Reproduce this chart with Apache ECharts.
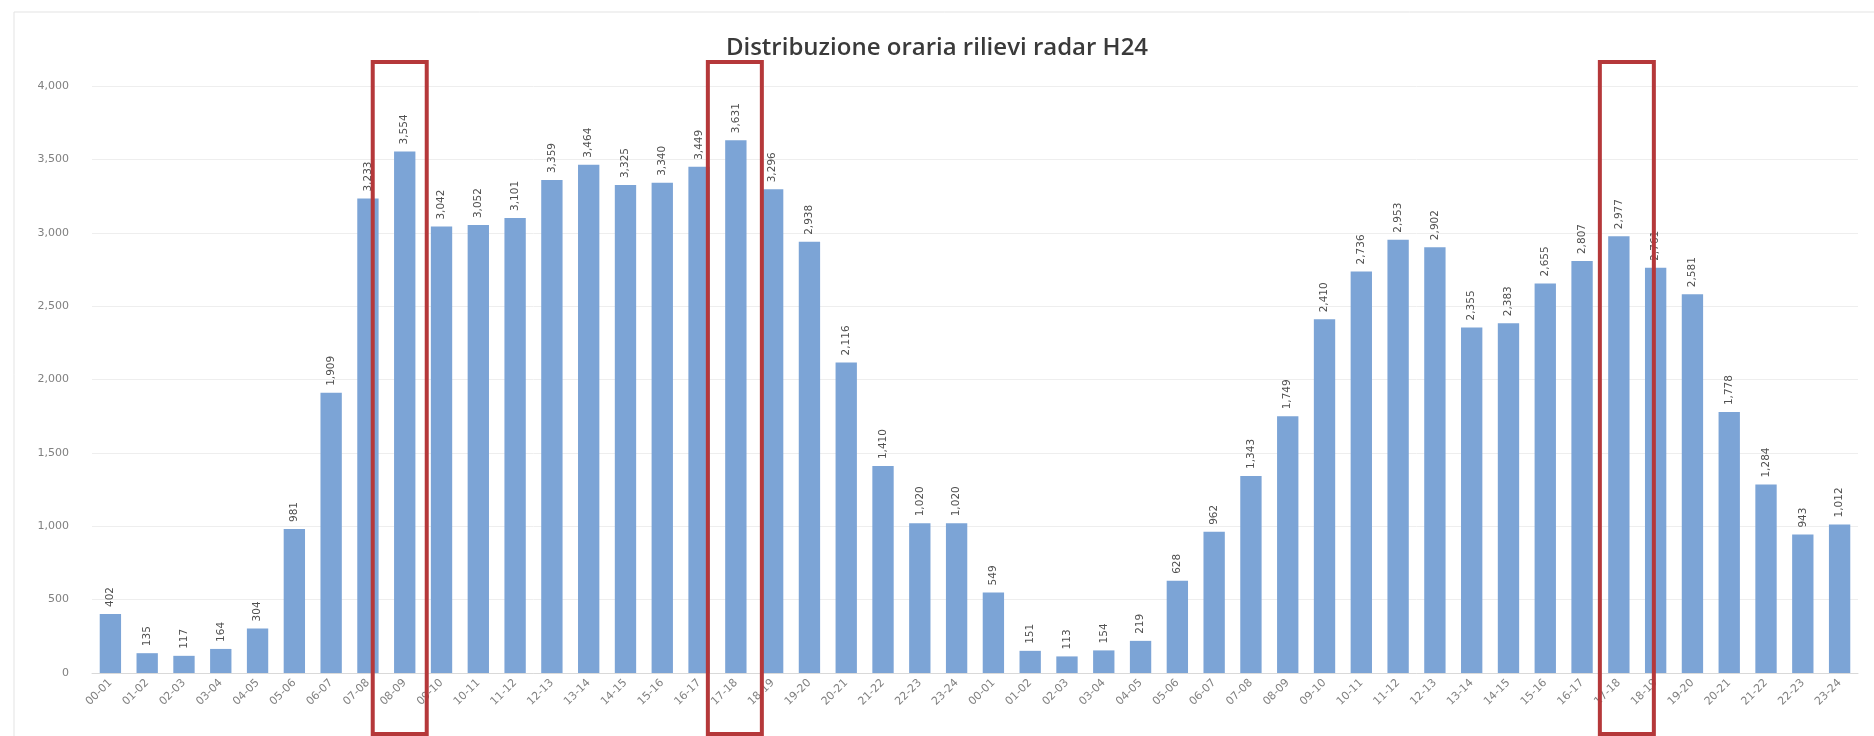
<!DOCTYPE html>
<html>
<head>
<meta charset="utf-8">
<title>Distribuzione oraria rilievi radar H24</title>
<script src="https://cdn.jsdelivr.net/npm/echarts@6/dist/echarts.min.js"></script>
<style>
  html, body { margin: 0; padding: 0; background: #fff; }
  #main { width: 1874px; height: 736px; }
</style>
</head>
<body>
<div id="main"></div>
<script>
// fasce orarie (due giornate consecutive)
var hours = ['00-01', '01-02', '02-03', '03-04', '04-05', '05-06', '06-07', '07-08',
  '08-09', '09-10', '10-11', '11-12', '12-13', '13-14', '14-15', '15-16',
  '16-17', '17-18', '18-19', '19-20', '20-21', '21-22', '22-23', '23-24']
var categories = hours.concat(hours)

var day1 = [402, 135, 117, 164, 304, 981, 1909, 3233, 3554, 3042, 3052, 3101,
  3359, 3464, 3325, 3340, 3449, 3631, 3296, 2938, 2116, 1410, 1020, 1020]
var day2 = [549, 151, 113, 154, 219, 628, 962, 1343, 1749, 2410, 2736, 2953,
  2902, 2355, 2383, 2655, 2807, 2977, 2761, 2581, 1778, 1284, 943, 1012]
var values = day1.concat(day2)

// fasce evidenziate con il riquadro rosso
var highlight = [8, 17, 41]

var yTicks = { min: 0, max: 4000, interval: 500 }

function fmt(v) {
  return String(v).replace(/\B(?=(\d{3})+(?!\d))/g, ',')
}

var myChart = echarts.init(document.getElementById('main'))

var option = {
  backgroundColor: '#fff',
  animation: false,
  title: {
    text: 'Distribuzione oraria rilievi radar H24',
    left: 'center',
    top: 31,
    textStyle: {
      fontFamily: 'Open Sans',
      fontSize: 24,
      fontWeight: 600,
      color: '#3a3a3a'
    }
  },
  grid: {
    left: 92,
    right: 16,
    top: 86,
    bottom: 63
  },
  xAxis: {
    type: 'category',
    data: categories,
    axisTick: { show: false },
    axisLine: { lineStyle: { color: '#d9d9d9', width: 1 } },
    axisLabel: {
      interval: 0,
      rotate: 45,
      margin: 8,
      fontFamily: 'DejaVu Sans',
      fontSize: 11,
      color: '#808080'
    }
  },
  yAxis: {
    type: 'value',
    min: yTicks.min,
    max: yTicks.max,
    interval: yTicks.interval,
    axisLine: { show: false },
    axisTick: { show: false },
    splitLine: { lineStyle: { color: '#eeeeee', width: 1 } },
    axisLabel: {
      margin: 23,
      fontFamily: 'DejaVu Sans',
      fontSize: 11,
      color: '#808080',
      formatter: fmt
    }
  },
  series: [
    {
      name: 'Rilievi',
      type: 'bar',
      data: values,
      barWidth: '58%',
      itemStyle: { color: '#7ca4d6' },
      label: {
        show: true,
        position: 'top',
        rotate: 90,
        align: 'left',
        verticalAlign: 'middle',
        distance: 7,
        fontFamily: 'DejaVu Sans',
        fontSize: 10.5,
        color: '#505050',
        formatter: function(p) { return fmt(p.value) }
      }
    }
  ]
}

myChart.setOption(option)

// cornice del grafico + riquadri rossi (disegnati a mano, leggermente fuori centro)
var nudge = [-5, -1, 8]
var graphics = [
  {
    type: 'rect',
    shape: { x: 14, y: 12, width: 1880, height: 740 },
    style: { fill: null, stroke: '#e3e3e3', lineWidth: 1 },
    silent: true
  }
]
var top4000 = myChart.convertToPixel({ yAxisIndex: 0 }, yTicks.max)
highlight.forEach(function(idx, i) {
  var cx = myChart.convertToPixel({ xAxisIndex: 0 }, idx) + nudge[i]
  graphics.push({
    type: 'rect',
    shape: { x: cx - 27, y: top4000 - 24, width: 54, height: 736 - top4000 + 22 },
    style: { fill: null, stroke: '#b5383a', lineWidth: 4 },
    silent: true,
    z: 10
  })
})
myChart.setOption({ graphic: graphics })
</script>
</body>
</html>
